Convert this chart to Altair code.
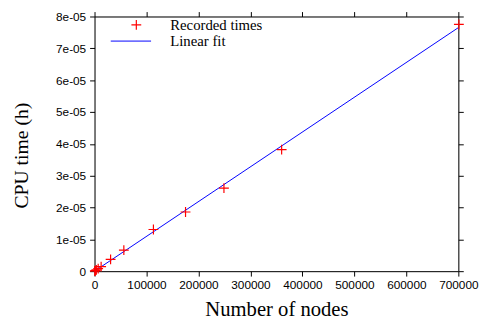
import altair as alt
import pandas as pd

# Recorded data (number of nodes, CPU time in hours)
nodes = [500, 1500, 3500, 7000, 12700, 30900, 56400, 113300, 175100, 249000, 360000, 701000]
cpu_time = [0.005e-5, 0.02e-5, 0.04e-5, 0.08e-5, 0.145e-5, 0.37e-5, 0.66e-5,
            1.31e-5, 1.86e-5, 2.61e-5, 3.82e-5, 7.75e-5]

# Linear fit end points
fit_nodes = [0, 700000]
fit_time = [0.0, 7.65e-5]

x_ticks = [0, 100000, 200000, 300000, 400000, 500000, 600000, 700000]
y_ticks = [0, 1e-5, 2e-5, 3e-5, 4e-5, 5e-5, 6e-5, 7e-5, 8e-5]

pts = pd.DataFrame({"nodes": nodes, "time": cpu_time, "series": "Recorded times"})
fit = pd.DataFrame({"nodes": fit_nodes, "time": fit_time, "series": "Linear fit"})

xscale = alt.Scale(domain=[0, 700000], nice=False, zero=False)
yscale = alt.Scale(domain=[0, 8e-5], nice=False, zero=False)

TICK_FONT = "Liberation Sans"
SERIF = "Liberation Serif"

common_axis = dict(tickSize=5, tickColor="#000", domain=True, domainColor="#000",
                   grid=False, labelFont=TICK_FONT, labelFontSize=12,
                   labelColor="#000", titleFont=SERIF,
                   titleFontWeight="normal", titleColor="#000")

plus = "M-1,0H1M0,-1V1"

points = alt.Chart(pts).mark_point(shape=plus, filled=False, size=100,
                                   strokeWidth=1.2, opacity=1).encode(
    x=alt.X("nodes:Q", scale=xscale,
            axis=alt.Axis(orient="bottom", values=x_ticks, format="d",
                          labelFlush=False, labelPadding=4, title="Number of nodes",
                          titleFontSize=21, titlePadding=8, **common_axis)),
    y=alt.Y("time:Q", scale=yscale,
            axis=alt.Axis(orient="left", values=y_ticks,
                          labelExpr="datum.value == 0 ? '0' : round(datum.value*1e5) + 'e-05'",
                          labelPadding=4, title="CPU time (h)", titleFontSize=20,
                          titlePadding=24, titleY=141, **common_axis)),
    color=alt.Color("series:N",
                    scale=alt.Scale(domain=["Recorded times"], range=["#ff0000"]),
                    legend=alt.Legend(title=None, orient="none", legendX=35, legendY=1,
                                      padding=0, symbolType=plus, symbolSize=100,
                                      symbolStrokeWidth=1.2, labelOffset=27,
                                      labelFont=SERIF, labelFontSize=15,
                                      labelColor="#000")),
)

line = alt.Chart(fit).mark_line(strokeWidth=1).encode(
    x=alt.X("nodes:Q", scale=xscale,
            axis=alt.Axis(orient="top", values=x_ticks, labels=False, title=None,
                          **common_axis)),
    y=alt.Y("time:Q", scale=yscale,
            axis=alt.Axis(orient="right", values=y_ticks, labels=False, title=None,
                          **common_axis)),
    stroke=alt.Stroke("series:N",
                      scale=alt.Scale(domain=["Linear fit"], range=["#0000ff"]),
                      legend=alt.Legend(title=None, orient="none", legendX=16, legendY=4,
                                        padding=0, symbolType="stroke", symbolSize=1681,
                                        symbolStrokeWidth=1, labelOffset=19,
                                        labelFont=SERIF, labelFontSize=15,
                                        labelColor="#000")),
)

chart = alt.layer(line, points).resolve_scale(
    color="independent", stroke="independent"
).properties(
    width=370, height=259,
    autosize=alt.AutoSizeParams(type="none"),
    padding={"left": 88, "top": 6, "right": 21, "bottom": 47},
).configure_view(stroke="#000", strokeWidth=1).configure(background="white")

chart.save("out.html", embed_options={"renderer": "svg", "actions": False})
